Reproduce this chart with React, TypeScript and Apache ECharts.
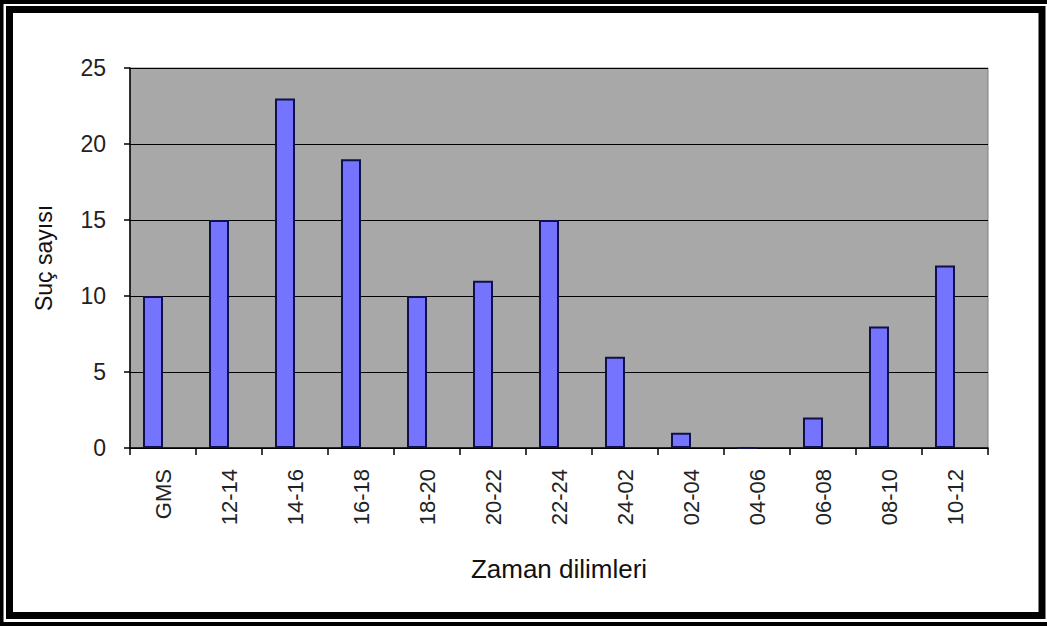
import React, { useEffect, useRef } from "react";
import * as echarts from "echarts";

const categories = ["GMS", "12-14", "14-16", "16-18", "18-20", "20-22", "22-24", "24-02", "02-04", "04-06", "06-08", "08-10", "10-12"];
const crimeCounts = [10, 15, 23, 19, 10, 11, 15, 6, 1, 0, 2, 8, 12];
const yTicks = { min: 0, max: 25, interval: 5 };
const xTitle = "Zaman dilimleri";
const yTitle = "Suç sayısı";

export default function App() {
  const ref = useRef<HTMLDivElement>(null);
  useEffect(() => {
    document.body.style.margin = "0";
    const chart = echarts.init(ref.current!, null, { renderer: "svg" });
    const font = "'Liberation Sans', Arial, sans-serif";
    chart.setOption({
      animation: false,
      backgroundColor: "#ffffff",
      graphic: [
        {
          type: "rect",
          shape: { x: 1.5, y: 2, width: 1100, height: 622 },
          style: { fill: "none", stroke: "#000", lineWidth: 4 },
          z: 100,
        },
        {
          type: "rect",
          shape: { x: 9.5, y: 9.5, width: 1032.5, height: 606 },
          style: { fill: "none", stroke: "#000", lineWidth: 7 },
          z: 100,
        },
      ],
      grid: {
        left: 130,
        top: 68,
        right: 59,
        bottom: 178,
        show: true,
        backgroundColor: "#a8a8a8",
        borderColor: "#808080",
        borderWidth: 1,
      },
      xAxis: {
        type: "category",
        data: categories,
        boundaryGap: true,
        name: xTitle,
        nameLocation: "middle",
        nameGap: 108,
        nameTextStyle: { fontFamily: font, fontSize: 26, color: "#111" },
        axisLine: { show: true, lineStyle: { color: "#000", width: 1.5 } },
        axisTick: { show: true, length: 7, alignWithLabel: false, lineStyle: { color: "#000", width: 1.5 } },
        axisLabel: {
          rotate: 90,
          interval: 0,
          margin: 21,
          fontFamily: font,
          fontSize: 22,
          color: "#222",
        },
        splitLine: { show: false },
      },
      yAxis: {
        type: "value",
        min: yTicks.min,
        max: yTicks.max,
        interval: yTicks.interval,
        name: yTitle,
        nameLocation: "middle",
        nameRotate: 90,
        nameGap: 75,
        nameTextStyle: { fontFamily: font, fontSize: 23, color: "#111" },
        axisLine: { show: true, lineStyle: { color: "#000", width: 1.5 } },
        axisTick: { show: true, length: 6, lineStyle: { color: "#000", width: 1.5 } },
        axisLabel: { margin: 24, fontFamily: font, fontSize: 23, color: "#222" },
        splitLine: { show: true, lineStyle: { color: "#000", width: 1.2 } },
      },
      series: [
        {
          type: "bar",
          data: crimeCounts,
          barWidth: 20,
          barGap: "0%",
          itemStyle: { color: "#7474ff", borderColor: "#10104a", borderWidth: 2 },
        },
        {
          type: "bar",
          data: categories.map(() => null),
          barWidth: 20,
          barGap: "0%",
          itemStyle: { color: "transparent" },
        },
      ],
    });
    return () => chart.dispose();
  }, []);
  return <div ref={ref} style={{ width: 1047, height: 626 }} />;
}
